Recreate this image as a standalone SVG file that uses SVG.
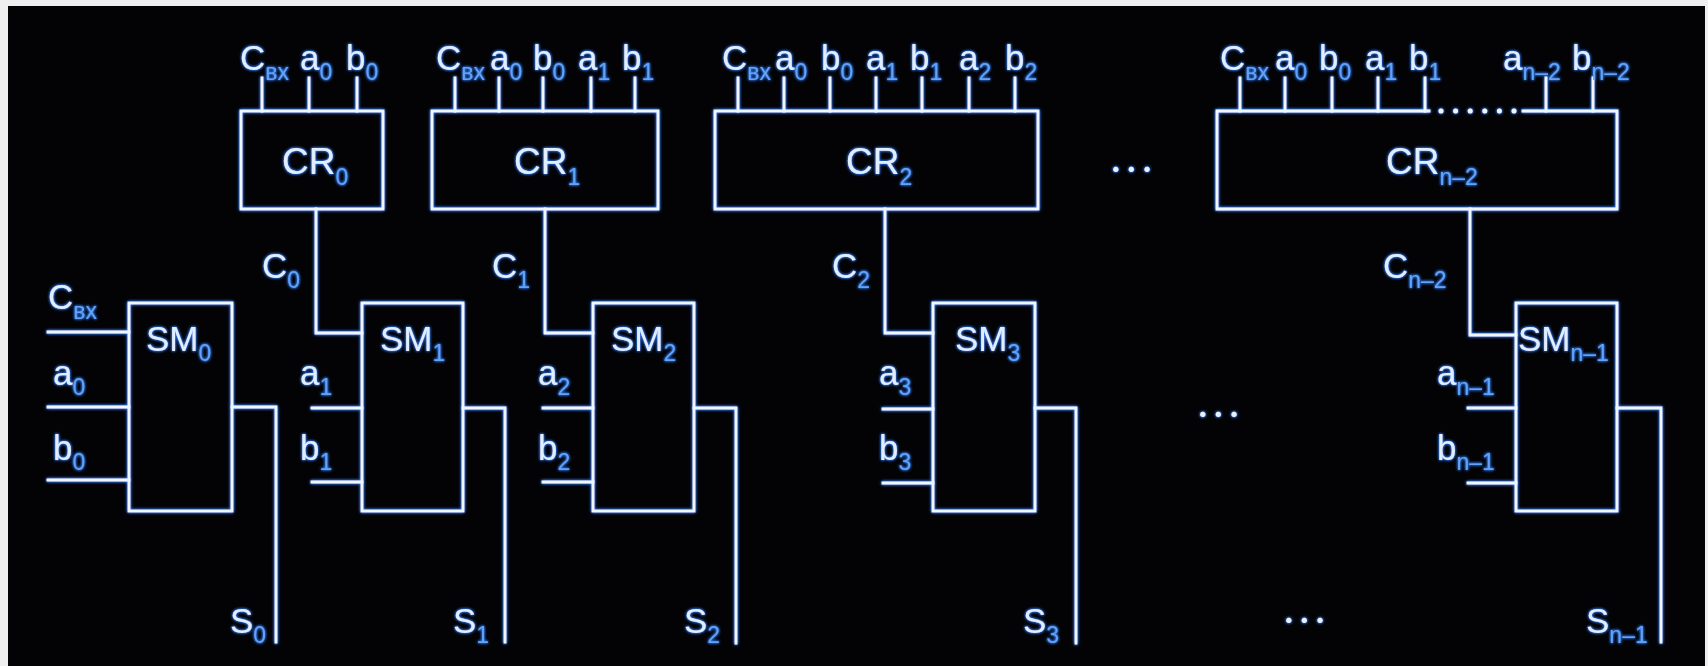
<svg xmlns="http://www.w3.org/2000/svg" width="1708" height="666" viewBox="0 0 1708 666">
<style>
.ln{fill:none;stroke:#eef6ff;stroke-width:2.8;stroke-linecap:square}
.dt{fill:none;stroke:#eef6ff;stroke-width:5;stroke-linecap:round;stroke-dasharray:0 14.6}
.t{font-family:"Liberation Sans",Arial,sans-serif;font-size:35px;fill:#e0eeff}
.big{font-size:37px}
.s{font-size:23px;fill:#64a3f6}
.el{font-family:Lato,"Liberation Sans",sans-serif;font-weight:900;font-size:32px;fill:#e8f2ff;letter-spacing:8px}
</style>
<defs>
<filter id="glow" filterUnits="userSpaceOnUse" x="0" y="0" width="1708" height="666">
<feGaussianBlur in="SourceAlpha" stdDeviation="1.6" result="b"/>
<feFlood flood-color="#2f7dff"/>
<feComposite in2="b" operator="in" result="g"/>
<feMerge><feMergeNode in="g"/><feMergeNode in="g"/><feMergeNode in="SourceGraphic"/></feMerge>
</filter>
</defs>
<rect x="0" y="0" width="1708" height="666" fill="#efefef"/>
<rect x="8" y="6" width="1697" height="660" fill="#030305"/>
<g filter="url(#glow)">
<g id="connectors">
<path class="ln" d="M262,78V111M309,78V111M357,78V111"/>
<path class="ln" d="M455,78V111M499,78V111M543,78V111M591,78V111M635,78V111"/>
<path class="ln" d="M738,78V111M784,78V111M830,78V111M876,78V111M922,78V111M969,78V111M1015,78V111"/>
<path class="ln" d="M1240,78V111M1285,78V111M1332,78V111M1378,78V111M1425,78V111M1546,78V111M1593,78V111"/>
<path class="ln" d="M316,209V333H362"/>
<path class="ln" d="M545,209V333H593"/>
<path class="ln" d="M885,209V333H933"/>
<path class="ln" d="M1470,209V335H1516"/>
<path class="ln" d="M48,332H129M48,407H129M48,480H129"/>
<path class="ln" d="M312,408H362M312,482H362"/>
<path class="ln" d="M543,408H593M543,482H593"/>
<path class="ln" d="M883,409H933M883,483H933"/>
<path class="ln" d="M1468,408H1516M1468,483H1516"/>
<path class="ln" d="M232,407H276V642"/>
<path class="ln" d="M463,408H505V642"/>
<path class="ln" d="M694,408H736V643"/>
<path class="ln" d="M1035,408H1076V643"/>
<path class="ln" d="M1617,408H1661V642"/>
</g>
<g id="cr0">
<rect class="ln" x="241" y="111" width="142" height="98"/>
<text class="t big" x="282" y="174">CR<tspan class="s" dy="11">0</tspan></text>
<text class="t" x="240" y="70">C<tspan class="s" dy="10">вх</tspan></text>
<text class="t" x="300" y="70">a<tspan class="s" dy="10">0</tspan></text>
<text class="t" x="346" y="70">b<tspan class="s" dy="10">0</tspan></text>
</g>
<g id="cr1">
<rect class="ln" x="432" y="111" width="226" height="98"/>
<text class="t big" x="514" y="174">CR<tspan class="s" dy="11">1</tspan></text>
<text class="t" x="436" y="70">C<tspan class="s" dy="10">вх</tspan></text>
<text class="t" x="490" y="70">a<tspan class="s" dy="10">0</tspan></text>
<text class="t" x="533" y="70">b<tspan class="s" dy="10">0</tspan></text>
<text class="t" x="578" y="70">a<tspan class="s" dy="10">1</tspan></text>
<text class="t" x="622" y="70">b<tspan class="s" dy="10">1</tspan></text>
</g>
<g id="cr2">
<rect class="ln" x="715" y="111" width="323" height="98"/>
<text class="t big" x="846" y="174">CR<tspan class="s" dy="11">2</tspan></text>
<text class="t" x="722" y="70">C<tspan class="s" dy="10">вх</tspan></text>
<text class="t" x="775" y="70">a<tspan class="s" dy="10">0</tspan></text>
<text class="t" x="821" y="70">b<tspan class="s" dy="10">0</tspan></text>
<text class="t" x="866" y="70">a<tspan class="s" dy="10">1</tspan></text>
<text class="t" x="910" y="70">b<tspan class="s" dy="10">1</tspan></text>
<text class="t" x="959" y="70">a<tspan class="s" dy="10">2</tspan></text>
<text class="t" x="1005" y="70">b<tspan class="s" dy="10">2</tspan></text>
</g>
<g id="crn2">
<path class="ln" d="M1429,111H1217V209H1617V111H1523"/>
<path class="dt" d="M1441,111H1515"/>
<text class="t big" x="1386" y="174">CR<tspan class="s" dy="11">n–2</tspan></text>
<text class="t" x="1220" y="70">C<tspan class="s" dy="10">вх</tspan></text>
<text class="t" x="1275" y="70">a<tspan class="s" dy="10">0</tspan></text>
<text class="t" x="1319" y="70">b<tspan class="s" dy="10">0</tspan></text>
<text class="t" x="1365" y="70">a<tspan class="s" dy="10">1</tspan></text>
<text class="t" x="1409" y="70">b<tspan class="s" dy="10">1</tspan></text>
<text class="t" x="1503" y="70">a<tspan class="s" dy="10">n–2</tspan></text>
<text class="t" x="1572" y="70">b<tspan class="s" dy="10">n–2</tspan></text>
</g>
<g id="sm0">
<rect class="ln" x="129" y="303" width="103" height="208"/>
<text class="t" x="146" y="351">SM<tspan class="s" dy="10">0</tspan></text>
</g>
<g id="sm1">
<rect class="ln" x="362" y="303" width="101" height="208"/>
<text class="t" x="380" y="351">SM<tspan class="s" dy="10">1</tspan></text>
</g>
<g id="sm2">
<rect class="ln" x="593" y="303" width="101" height="208"/>
<text class="t" x="611" y="351">SM<tspan class="s" dy="10">2</tspan></text>
</g>
<g id="sm3">
<rect class="ln" x="933" y="303" width="102" height="208"/>
<text class="t" x="955" y="351">SM<tspan class="s" dy="10">3</tspan></text>
</g>
<g id="smn1">
<rect class="ln" x="1516" y="303" width="101" height="208"/>
<text class="t" x="1518" y="351">SM<tspan class="s" dy="10">n–1</tspan></text>
</g>
<g id="labels">
<text class="t" x="262" y="278">C<tspan class="s" dy="10">0</tspan></text>
<text class="t" x="492" y="278">C<tspan class="s" dy="10">1</tspan></text>
<text class="t" x="832" y="278">C<tspan class="s" dy="10">2</tspan></text>
<text class="t" x="1383" y="278">C<tspan class="s" dy="10">n–2</tspan></text>
<text class="t" x="48" y="309">C<tspan class="s" dy="10">вх</tspan></text>
<text class="t" x="53" y="385">a<tspan class="s" dy="10">0</tspan></text>
<text class="t" x="53" y="460">b<tspan class="s" dy="10">0</tspan></text>
<text class="t" x="300" y="385">a<tspan class="s" dy="10">1</tspan></text>
<text class="t" x="300" y="460">b<tspan class="s" dy="10">1</tspan></text>
<text class="t" x="538" y="385">a<tspan class="s" dy="10">2</tspan></text>
<text class="t" x="538" y="460">b<tspan class="s" dy="10">2</tspan></text>
<text class="t" x="879" y="385">a<tspan class="s" dy="10">3</tspan></text>
<text class="t" x="879" y="460">b<tspan class="s" dy="10">3</tspan></text>
<text class="t" x="1437" y="385">a<tspan class="s" dy="10">n–1</tspan></text>
<text class="t" x="1437" y="460">b<tspan class="s" dy="10">n–1</tspan></text>
<text class="t" x="230" y="633">S<tspan class="s" dy="10">0</tspan></text>
<text class="t" x="453" y="633">S<tspan class="s" dy="10">1</tspan></text>
<text class="t" x="684" y="633">S<tspan class="s" dy="10">2</tspan></text>
<text class="t" x="1023" y="633">S<tspan class="s" dy="10">3</tspan></text>
<text class="t" x="1586" y="633">S<tspan class="s" dy="10">n–1</tspan></text>
<text class="el" x="1112" y="172">...</text>
<text class="el" x="1199" y="417">...</text>
<text class="el" x="1285" y="623">...</text>
</g>
</g>
</svg>
